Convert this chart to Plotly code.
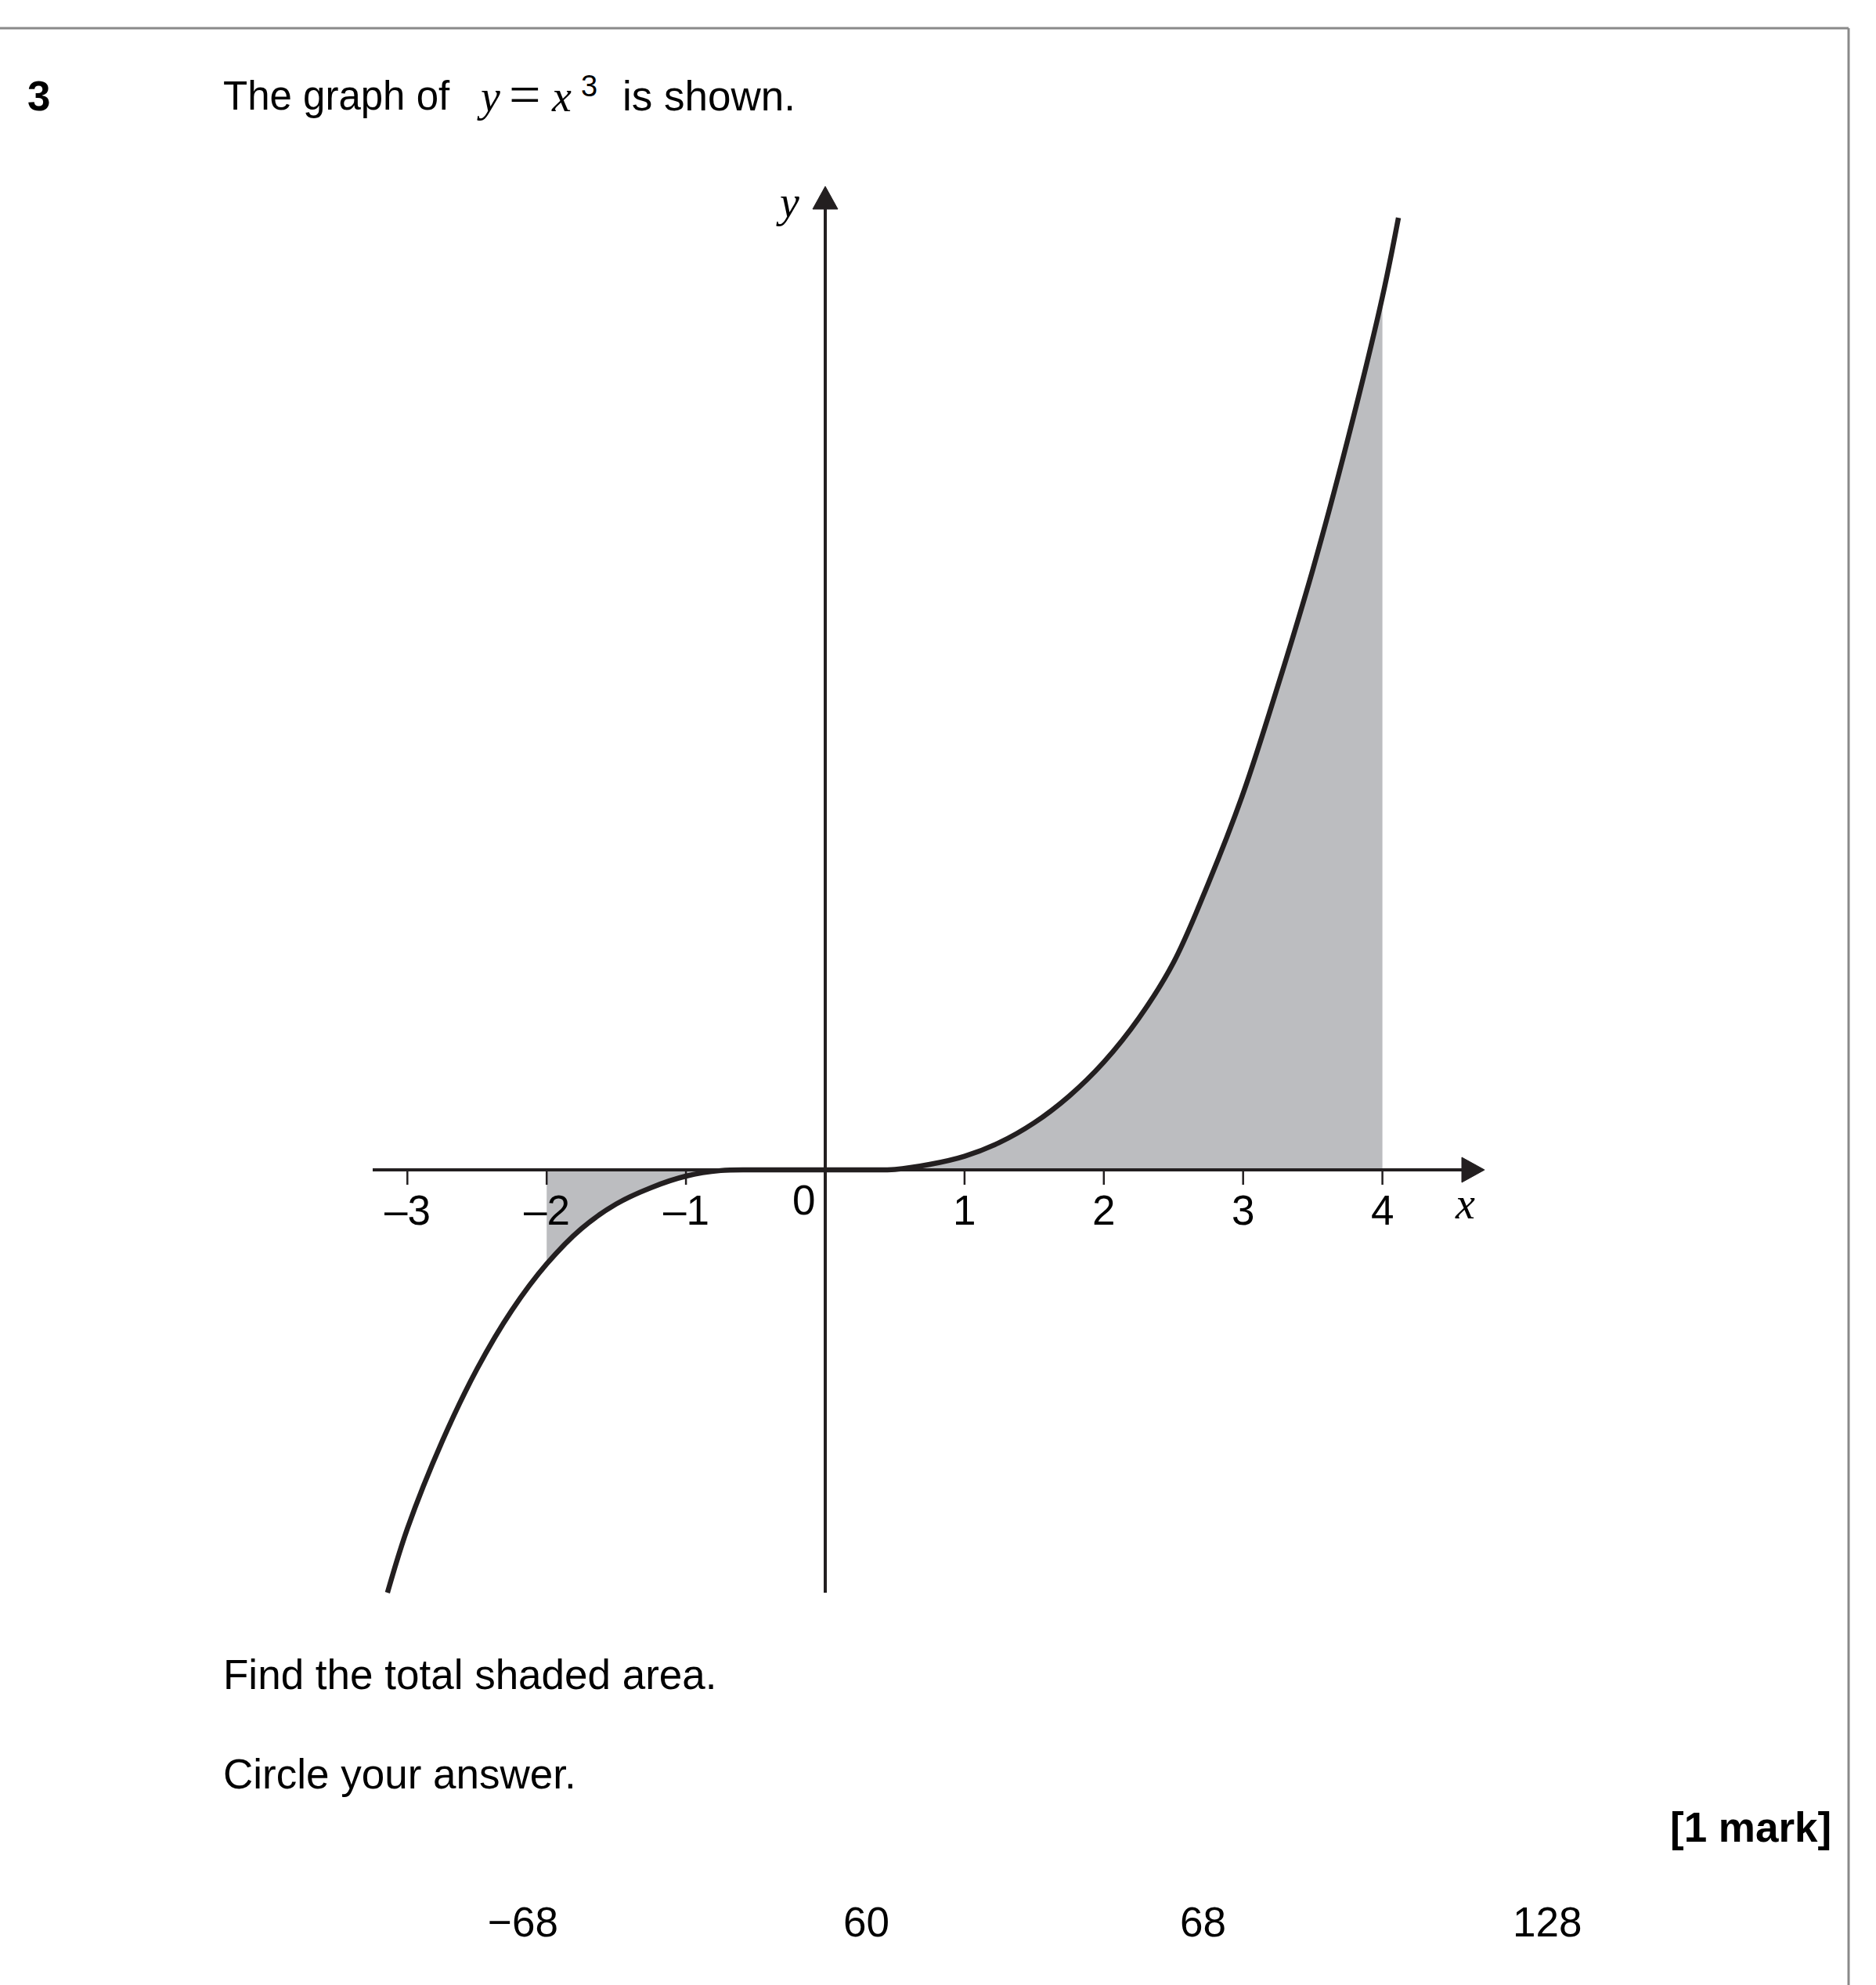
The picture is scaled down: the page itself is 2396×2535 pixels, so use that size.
import plotly.graph_objects as go

# ---------------- data ----------------
curve_x = [-3.143, -3.0, -2.75, -2.5, -2.25, -2.0, -1.75, -1.5, -1.25, -1.0, -0.75,
           -0.5, -0.25, 0.0, 0.25, 0.5, 0.75, 1.0, 1.25, 1.5, 1.75, 2.0, 2.25, 2.5,
           2.75, 3.0, 3.25, 3.5, 3.75, 4.0, 4.115]
curve_y = [-31.0, -26.3, -19.9, -14.6, -10.3, -6.9, -4.3, -2.5, -1.3, -0.46, -0.05,
           0.0, 0.0, 0.0, 0.0, 0.03, 0.4, 1.0, 2.0, 3.45, 5.4, 7.9, 11.1, 15.2,
           21.0, 27.6, 35.5, 44.0, 53.5, 64.0, 69.8]

shade_left_range = (-2.0, -0.75)
shade_right_range = (0.5, 4.0)

x_ticks = [-3, -2, -1, 1, 2, 3, 4]
x_tick_labels = ["\u20133", "\u20132", "\u20131", "1", "2", "3", "4"]
origin_label = "0"

answers = ["\u221268", "60", "68", "128"]

# ---------------- layout constants (pixels) ----------------
W, H = 2396, 2535
X0, Y0 = 1054, 1494          # pixel of origin
SX, SY = 177.9, 17.42        # pixels per unit
INK = "#231f20"
SHADE = "#bcbdc0"
FONT = "Liberation Sans, Arial, Helvetica, sans-serif"
SERIF = "Liberation Serif, Times New Roman, serif"


def dx(px):
    return (px - X0) / SX


def dy(py):
    return (Y0 - py) / SY


def px_(px):
    return px / W


def py_(py):
    return 1 - py / H


fig = go.Figure()


def subset(lo, hi):
    xs, ys = [], []
    for x, y in zip(curve_x, curve_y):
        if lo <= x <= hi:
            xs.append(x)
            ys.append(y)
    return xs, ys


for lo, hi in (shade_left_range, shade_right_range):
    xs, ys = subset(lo, hi)
    fig.add_trace(go.Scatter(x=xs, y=ys, mode="lines", fill="tozeroy",
                             fillcolor=SHADE,
                             line=dict(width=0, color=SHADE, shape="spline", smoothing=1.0),
                             hoverinfo="skip", showlegend=False))

fig.add_trace(go.Scatter(x=curve_x, y=curve_y, mode="lines",
                         line=dict(color=INK, width=6.5, shape="spline", smoothing=1.0),
                         hoverinfo="skip", showlegend=False))

shapes = []
# x axis
shapes.append(dict(type="line", xref="x", yref="y", x0=dx(476), x1=dx(1870), y0=0, y1=0,
                   line=dict(color=INK, width=4), layer="above"))
shapes.append(dict(type="path", xref="x", yref="y",
                   path=f"M {dx(1867)} {dy(Y0-16)} L {dx(1896)} 0 L {dx(1867)} {dy(Y0+16)} Z",
                   fillcolor=INK, line=dict(color=INK, width=1), layer="above"))
# y axis
shapes.append(dict(type="line", xref="x", yref="y", x0=0, x1=0, y0=dy(2034), y1=dy(264),
                   line=dict(color=INK, width=4), layer="above"))
shapes.append(dict(type="path", xref="x", yref="y",
                   path=f"M {dx(X0-16)} {dy(267)} L 0 {dy(238)} L {dx(X0+16)} {dy(267)} Z",
                   fillcolor=INK, line=dict(color=INK, width=1), layer="above"))
# ticks
for t in x_ticks:
    shapes.append(dict(type="line", xref="x", yref="y", x0=t, x1=t, y0=0, y1=dy(Y0 + 19),
                       line=dict(color=INK, width=2.5), layer="above"))
# page frame
shapes.append(dict(type="line", xref="paper", yref="paper", x0=0, x1=px_(2361),
                   y0=py_(36), y1=py_(36), line=dict(color="#8a8a8a", width=3)))
shapes.append(dict(type="line", xref="paper", yref="paper", x0=px_(2361), x1=px_(2361),
                   y0=py_(36), y1=0, line=dict(color="#8a8a8a", width=3)))

ann = []


def text(x, y, s, size=53, family=FONT, anchor="left", color="#000"):
    ann.append(dict(xref="paper", yref="paper", x=px_(x), y=py_(y), text=s,
                    showarrow=False, xanchor=anchor, yanchor="middle",
                    font=dict(size=size, family=family, color=color)))


# tick labels
for t, lab in zip(x_ticks, x_tick_labels):
    ann.append(dict(xref="x", yref="paper", x=t, y=py_(1545), text=lab, showarrow=False,
                    xanchor="center", yanchor="middle",
                    font=dict(size=53, family=FONT, color="#000")))
ann.append(dict(xref="paper", yref="paper", x=px_(1026), y=py_(1532), text=origin_label,
                showarrow=False, xanchor="center", yanchor="middle",
                font=dict(size=53, family=FONT, color="#000")))

# axis names
text(1006, 258, "<i>y</i>", size=56, family=SERIF, anchor="center")
text(1871, 1537, "<i>x</i>", size=56, family=SERIF, anchor="center")

# question header
text(49, 123, "<b>3</b>", anchor="center")
text(283, 123, "The graph of", size=51)
text(607, 123, "<i>y</i>", size=56, family=SERIF)
text(670, 121, "=", size=72, family=SERIF, anchor="center")
text(702, 123, "<i>x</i>", size=56, family=SERIF)
text(740, 110, "3", size=38)
text(793, 123, "is shown.")

text(283, 2138, "Find the total shaded area.")
text(283, 2265, "Circle your answer.")
text(2341, 2333, "<b>[1 mark]</b>", anchor="right")

answer_x = [668, 1106, 1536, 1976]
for s, ax in zip(answers, answer_x):
    text(ax, 2454, s, anchor="center")

fig.update_layout(
    width=W, height=H,
    margin=dict(l=0, r=0, t=0, b=0),
    paper_bgcolor="white", plot_bgcolor="white",
    xaxis=dict(range=[dx(0), dx(W)], visible=False, domain=[0, 1], fixedrange=True),
    yaxis=dict(range=[dy(H), dy(0)], visible=False, domain=[0, 1], fixedrange=True),
    shapes=shapes, annotations=ann, showlegend=False,
)

fig.write_html("out.html")
